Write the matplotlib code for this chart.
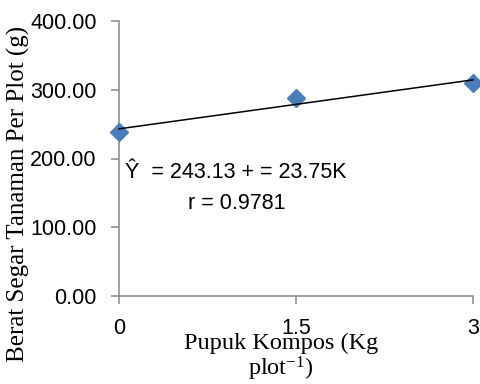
import numpy as np
import matplotlib
matplotlib.use("Agg")
import matplotlib.pyplot as plt

# Data
kompos = [0, 1.5, 3]
berat = [238.5, 288.0, 309.75]
x_ticks = [0, 1.5, 3]
x_ticklabels = ["0", "1.5", "3"]
y_ticks = [0, 100, 200, 300, 400]

# regression as printed on the chart
intercept = 243.13
slope = 23.75
r_value = 0.9781

grey = "#868686"
blue = "#4A7EBB"

fig = plt.figure(figsize=(4.8, 3.84), dpi=100)
ax = fig.add_axes([119 / 480, 1 - 296 / 384, 354 / 480, 275 / 384])

ax.plot(kompos, berat, linestyle="none", marker="D", markersize=9.5,
        color=blue, clip_on=False, zorder=3)
xs = np.array([kompos[0], kompos[-1]])
ax.plot(xs, intercept + slope * xs, color="black", linewidth=1.1,
        clip_on=False, zorder=4)

ax.set_xlim(0, 3)
ax.set_ylim(0, 400)
ax.set_xticks(x_ticks)
ax.set_xticklabels(x_ticklabels)
ax.set_yticks(y_ticks)
ax.set_yticklabels([f"{v:.2f}" for v in y_ticks])

for side in ["top", "right"]:
    ax.spines[side].set_visible(False)
for side in ["left", "bottom"]:
    ax.spines[side].set_color(grey)
    ax.spines[side].set_linewidth(1.1)

ax.tick_params(axis="both", direction="out", length=6, width=1.1, color=grey,
               labelsize=15.5, pad=10, labelcolor="black")
for lbl in ax.get_xticklabels() + ax.get_yticklabels():
    lbl.set_family("Liberation Sans")

ax.text(0.05, 180, f"Ŷ  = {intercept:.2f} + = {slope:.2f}K",
        fontsize=15.5, family="Liberation Sans", va="center", ha="left")
ax.text(0.585, 135, f"r = {r_value:.4f}", fontsize=15.5,
        family="Liberation Sans", va="center", ha="left")

fig.text(18 / 480, 1 - 194 / 384, "Berat Segar Tanaman Per Plot (g)",
         rotation=90, ha="center", va="center", fontsize=18,
         family="Liberation Serif")
fig.text(281 / 480, 1 - 358 / 384,
         "Pupuk Kompos (Kg\nplot$\\mathregular{^{-1}}$)",
         ha="center", va="center", fontsize=17.5, family="Liberation Serif",
         linespacing=1.05)

fig.savefig("out.png", dpi=100)
